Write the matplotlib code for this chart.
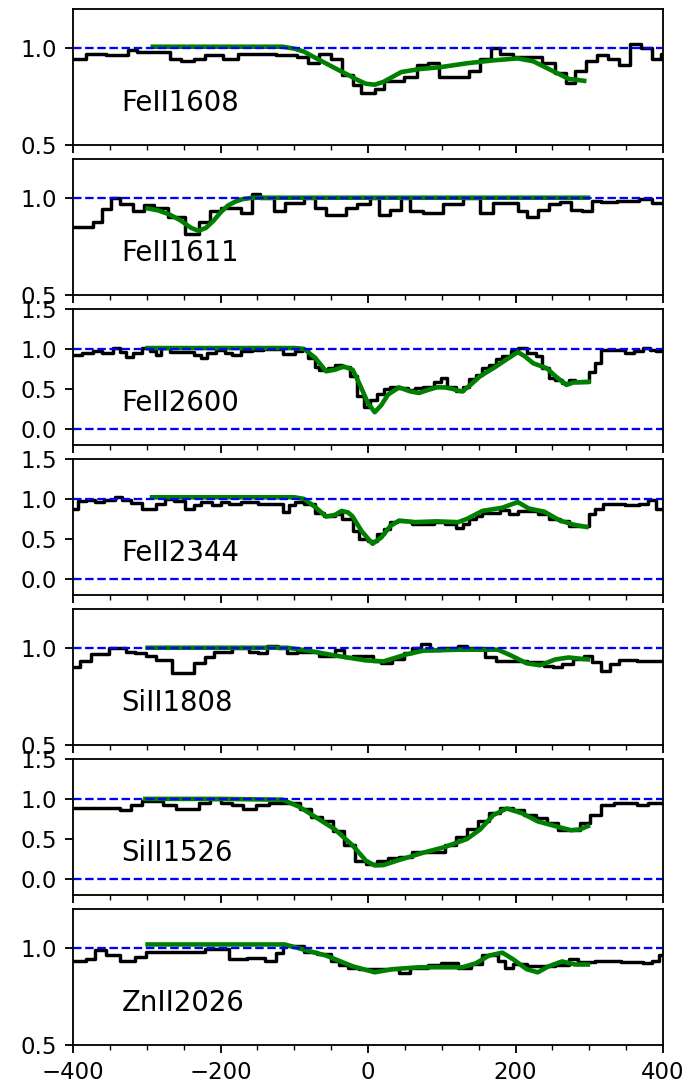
import numpy as np
import matplotlib
matplotlib.use('Agg')
from matplotlib import pyplot as plt
from matplotlib.ticker import MultipleLocator

# transition names, top to bottom
lines = ['FeII1608', 'FeII1611', 'FeII2600', 'FeII2344', 'SiII1808', 'SiII1526', 'ZnII2026']

# observed flux: velocity where each pixel starts (km/s) and its normalised flux
vel_1608 = [-400, -382, -355, -325, -313, -269, -254, -236, -221, -197, -176, -125, -96, -81, -66, -51, -36, -21, -9, 9,
            21, 48, 66, 81, 96, 137, 152, 167, 179, 197, 236, 254, 269, 281, 296, 310, 325, 340, 355, 370, 385, 397]
flux_1608 = [0.94, 0.97, 0.96, 0.99, 0.98, 0.94, 0.93, 0.94, 0.96, 0.94, 0.97, 0.96, 0.95, 0.92, 0.97, 0.94, 0.86, 0.81, 0.77, 0.79,
             0.83, 0.85, 0.91, 0.92, 0.85, 0.88, 0.94, 1.0, 0.97, 0.95, 0.92, 0.87, 0.82, 0.88, 0.93, 0.96, 0.94, 0.91, 1.02, 1.0, 0.94, 0.97]

vel_1611 = [-400, -373, -361, -349, -337, -319, -304, -290, -272, -248, -230, -215, -200, -173, -158, -146, -128, -113, -87, -72,
            -57, -30, -15, 3, 15, 30, 45, 57, 75, 101, 128, 152, 170, 203, 215, 230, 245, 260, 275, 290, 304, 316, 337, 367, 385]
flux_1611 = [0.85, 0.875, 0.94, 1.0, 0.97, 0.93, 0.96, 0.945, 0.90, 0.815, 0.875, 0.93, 0.945, 0.92, 1.02, 1.0, 0.93, 0.975, 1.0, 0.945,
             0.91, 0.945, 0.97, 1.0, 0.91, 0.935, 1.0, 0.93, 0.92, 0.97, 1.0, 0.92, 0.975, 0.93, 0.90, 0.935, 0.97, 0.98, 0.935, 0.93,
             0.985, 0.98, 0.985, 0.995, 0.975]

vel_2600 = [-400, -388, -373, -361, -346, -337, -328, -319, -307, -296, -287, -281, -269, -236, -227, -218, -206, -194, -185, -173,
            -158, -143, -116, -99, -90, -81, -72, -66, -54, -45, -36, -24, -15, -6, 3, 12, 21, 30, 39, 54,
            63, 75, 90, 99, 107, 119, 128, 137, 146, 155, 164, 173, 182, 194, 203, 215, 227, 236, 245, 254,
            263, 272, 281, 299, 307, 316, 349, 361, 373, 382, 391]
flux_2600 = [0.92, 0.95, 0.97, 0.95, 1.01, 0.96, 0.90, 0.95, 1.01, 0.97, 0.92, 1.01, 0.96, 0.92, 0.89, 0.95, 0.99, 0.95, 0.92, 0.97,
             0.99, 1.0, 0.93, 0.97, 0.98, 0.89, 0.78, 0.74, 0.76, 0.80, 0.78, 0.66, 0.41, 0.28, 0.36, 0.435, 0.50, 0.52, 0.51, 0.49,
             0.51, 0.52, 0.59, 0.64, 0.53, 0.47, 0.53, 0.62, 0.68, 0.76, 0.80, 0.87, 0.91, 0.97, 1.01, 0.95, 0.91, 0.76, 0.64, 0.615,
             0.57, 0.615, 0.59, 0.71, 0.82, 0.99, 0.95, 0.97, 1.01, 0.99, 0.97]

vel_2344 = [-400, -394, -382, -370, -358, -343, -334, -322, -307, -287, -275, -263, -248, -236, -227, -212, -200, -188, -173, -149,
            -116, -107, -99, -87, -72, -60, -45, -36, -21, -12, 0, 12, 21, 30, 39, 60, 90, 104, 119, 128,
            137, 146, 155, 179, 191, 203, 230, 245, 260, 272, 299, 307, 319, 349, 367, 379, 391]
flux_2344 = [0.87, 0.97, 0.99, 0.96, 0.99, 1.02, 0.98, 0.945, 0.87, 0.94, 1.0, 0.97, 0.87, 0.92, 0.96, 0.92, 0.96, 0.93, 0.96, 0.93,
             0.84, 0.92, 0.96, 0.94, 0.83, 0.79, 0.81, 0.75, 0.60, 0.50, 0.475, 0.56, 0.62, 0.71, 0.73, 0.69, 0.71, 0.685, 0.64, 0.69,
             0.75, 0.79, 0.83, 0.86, 0.81, 0.85, 0.81, 0.75, 0.72, 0.66, 0.81, 0.87, 0.94, 0.92, 0.94, 0.99, 0.87]

vel_1808 = [-400, -391, -376, -352, -328, -316, -301, -287, -266, -236, -221, -209, -185, -161, -149, -137, -122, -110, -96, -66,
            -45, -33, -21, 6, 18, 33, 48, 60, 72, 84, 99, 122, 134, 158, 173, 215, 239, 251, 263, 278,
            293, 304, 316, 328, 340, 364]
flux_1808 = [0.90, 0.93, 0.97, 1.0, 0.98, 0.975, 0.96, 0.935, 0.87, 0.92, 0.95, 0.98, 1.0, 0.98, 0.975, 1.01, 1.0, 0.975, 0.98, 0.96,
             0.99, 0.95, 0.96, 0.93, 0.92, 0.94, 0.975, 1.0, 1.02, 0.99, 1.0, 1.01, 1.0, 0.95, 0.93, 0.925, 0.905, 0.90, 0.915, 0.94,
             0.96, 0.925, 0.88, 0.915, 0.935, 0.93]

vel_1526 = [-400, -337, -322, -307, -278, -260, -230, -215, -200, -185, -170, -152, -134, -93, -78, -63, -48, -33, -18, -3,
            12, 27, 42, 60, 104, 119, 134, 149, 164, 179, 197, 212, 227, 242, 257, 287, 301, 316, 334, 364, 379]
flux_1526 = [0.89, 0.865, 0.93, 0.97, 0.92, 0.88, 0.95, 1.0, 0.95, 0.92, 0.88, 0.92, 0.95, 0.88, 0.78, 0.72, 0.60, 0.42, 0.23, 0.19,
             0.23, 0.265, 0.28, 0.335, 0.42, 0.53, 0.62, 0.72, 0.82, 0.885, 0.865, 0.80, 0.76, 0.70, 0.61, 0.70, 0.80, 0.92, 0.95, 0.93, 0.95]

vel_2026 = [-400, -382, -370, -355, -337, -316, -301, -221, -188, -164, -140, -125, -116, -87, -69, -51, -39, -27, -12, 42,
            57, 81, 99, 122, 140, 155, 176, 185, 197, 215, 254, 272, 284, 307, 343, 373, 385, 394]
flux_2026 = [0.93, 0.94, 0.99, 0.965, 0.93, 0.955, 0.98, 0.995, 0.94, 0.95, 0.93, 0.975, 1.01, 0.98, 0.97, 0.93, 0.91, 0.895, 0.89, 0.87,
             0.895, 0.91, 0.92, 0.895, 0.915, 0.965, 0.93, 0.895, 0.915, 0.905, 0.91, 0.94, 0.925, 0.93, 0.925, 0.92, 0.93, 0.965]

# fitted model (green)
mvel_1608 = [-292, -200, -116, -100, -87, -75, -60, -45, -27, -12, -3, 9, 21, 33, 45, 69, 98, 134, 170, 203, 224, 248, 272, 293]
mflux_1608 = [1.005, 1.005, 1.005, 0.995, 0.98, 0.955, 0.925, 0.895, 0.86, 0.83, 0.815, 0.81, 0.825, 0.85, 0.875, 0.89, 0.90, 0.92, 0.935, 0.945, 0.93, 0.885, 0.84, 0.83]

mvel_1611 = [-299, -285, -270, -255, -240, -230, -220, -210, -200, -190, -180, -170, -160, -150, -100, 0, 100, 200, 298]
mflux_1611 = [0.945, 0.935, 0.915, 0.885, 0.845, 0.83, 0.845, 0.88, 0.925, 0.96, 0.98, 0.993, 0.998, 1.0, 1.0, 1.0, 1.0, 1.0, 1.0]

mvel_2600 = [-299, -200, -100, -87, -72, -57, -45, -33, -21, -12, 0, 9, 18, 27, 42, 57, 69, 82, 93, 104,
             115, 122, 128, 140, 152, 170, 188, 203, 212, 224, 242, 254, 269, 278, 299]
mflux_2600 = [1.01, 1.01, 1.01, 1.0, 0.89, 0.72, 0.74, 0.78, 0.74, 0.57, 0.32, 0.21, 0.30, 0.43, 0.52, 0.47, 0.45, 0.49, 0.52, 0.52,
              0.50, 0.48, 0.47, 0.56, 0.66, 0.76, 0.87, 0.96, 0.91, 0.82, 0.76, 0.66, 0.55, 0.58, 0.59]

mvel_2344 = [-293, -200, -100, -87, -72, -57, -45, -36, -27, -21, -9, 6, 18, 30, 42, 63, 93, 122, 134, 155, 182, 203, 218, 239, 260, 278, 296]
mflux_2344 = [1.02, 1.02, 1.02, 1.0, 0.90, 0.78, 0.80, 0.85, 0.83, 0.78, 0.60, 0.44, 0.52, 0.66, 0.73, 0.71, 0.72, 0.71, 0.75, 0.85,
              0.89, 0.96, 0.88, 0.84, 0.73, 0.68, 0.65]

mvel_1808 = [-299, -200, -110, -81, -45, -3, 21, 51, 75, 122, 176, 194, 215, 233, 254, 272, 298]
mflux_1808 = [1.0, 1.0, 1.0, 0.985, 0.96, 0.935, 0.93, 0.965, 0.985, 0.99, 0.99, 0.96, 0.92, 0.91, 0.94, 0.95, 0.94]

mvel_1526 = [-302, -200, -116, -93, -69, -45, -21, -3, 9, 21, 39, 75, 104, 134, 152, 170, 188, 209, 230, 254, 275, 287, 298]
mflux_1526 = [1.0, 1.0, 0.99, 0.90, 0.76, 0.62, 0.42, 0.23, 0.17, 0.175, 0.23, 0.33, 0.40, 0.50, 0.62, 0.80, 0.88, 0.82, 0.72, 0.66, 0.61, 0.62, 0.66]

mvel_2026 = [-299, -200, -113, -87, -57, -21, 9, 33, 69, 98, 128, 146, 164, 182, 197, 215, 230, 245, 263, 281, 298]
mflux_2026 = [1.017, 1.017, 1.017, 0.99, 0.96, 0.905, 0.874, 0.89, 0.90, 0.90, 0.90, 0.92, 0.96, 0.975, 0.94, 0.89, 0.874, 0.905, 0.93, 0.914, 0.914]

data_vel = [vel_1608, vel_1611, vel_2600, vel_2344, vel_1808, vel_1526, vel_2026]
data_flux = [flux_1608, flux_1611, flux_2600, flux_2344, flux_1808, flux_1526, flux_2026]
model_vel = [mvel_1608, mvel_1611, mvel_2600, mvel_2344, mvel_1808, mvel_1526, mvel_2026]
model_flux = [mflux_1608, mflux_1611, mflux_2600, mflux_2344, mflux_1808, mflux_1526, mflux_2026]
strong = [False, False, True, True, False, True, False]  # strong lines get the full 0-1 range


def main():
    fig, axes = plt.subplots(len(lines), 1, sharex=True, figsize=(690 / 165, 1091 / 165), dpi=165)
    fig.subplots_adjust(left=0.106, right=0.961, top=0.992, bottom=0.042, hspace=0.1)

    for i, ax in enumerate(axes):
        v = list(data_vel[i]) + [400]
        f = list(data_flux[i]) + [data_flux[i][-1]]
        ax.step(v, f, where='post', color='k', lw=1.5)
        ax.plot(model_vel[i], model_flux[i], color='green', lw=2.0)
        ax.axhline(1.0, color='b', ls='--', lw=1.0)
        if strong[i]:
            ax.axhline(0.0, color='b', ls='--', lw=1.0)
            ax.set_ylim(-0.2, 1.5)
            ax.set_yticks([0.0, 0.5, 1.0, 1.5])
        else:
            ax.set_ylim(0.5, 1.2)
            ax.set_yticks([0.5, 1.0])
        ax.text(0.082, 0.31, lines[i], transform=ax.transAxes, fontsize=12, va='center', ha='left')
        ax.xaxis.set_minor_locator(MultipleLocator(50))
        ax.xaxis.set_major_locator(MultipleLocator(200))

    axes[-1].set_xlim(-400, 400)
    fig.savefig('out.png', dpi=165)


if __name__ == '__main__':
    main()
